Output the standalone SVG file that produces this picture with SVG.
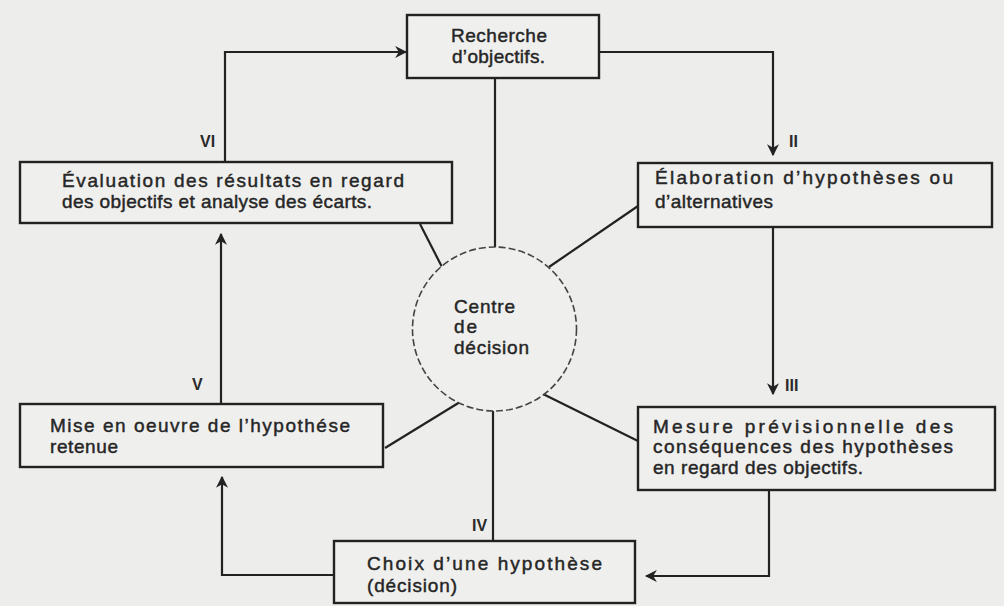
<svg xmlns="http://www.w3.org/2000/svg" width="1004" height="606" viewBox="0 0 1004 606">
<defs>
<style>
.bg{fill:#ededeb}
.box{fill:#efefed;stroke:#222;stroke-width:2.4}
.t{font-family:"Liberation Sans",Arial,Helvetica,sans-serif;font-size:19px;fill:#262626;stroke:#262626;stroke-width:0.45}
.lab{font-family:"Liberation Sans",Arial,Helvetica,sans-serif;font-size:16px;font-weight:bold;fill:#2a2a2a}
.ln{fill:none;stroke:#222;stroke-width:2.2}
.circ{fill:#efefed;stroke:#444;stroke-width:1.6;stroke-dasharray:7 3}
</style>
<marker id="arr" viewBox="0 0 10 10" refX="9" refY="5" markerWidth="5.5" markerHeight="5.5" orient="auto" markerUnits="strokeWidth">
<path d="M0,0 L10,5 L0,10 L3,5 z" fill="#222"/>
</marker>
</defs>
<rect class="bg" x="0" y="0" width="1004" height="606"/>

<g id="connectors">
<line class="ln" x1="495" y1="78" x2="495" y2="249"/>
<line class="ln" x1="420" y1="224" x2="442" y2="267"/>
<line class="ln" x1="549" y1="267" x2="638" y2="206"/>
<line class="ln" x1="543" y1="394" x2="638" y2="441"/>
<line class="ln" x1="460" y1="402" x2="385" y2="448"/>
<line class="ln" x1="493" y1="410" x2="493" y2="541"/>
<polyline class="ln" points="599,52 773,52 773,155" marker-end="url(#arr)"/>
<polyline class="ln" points="773,227 773,394" marker-end="url(#arr)"/>
<polyline class="ln" points="769,490 769,576 646,576" marker-end="url(#arr)"/>
<polyline class="ln" points="335,575 222,575 222,477" marker-end="url(#arr)"/>
<polyline class="ln" points="221,404 221,234" marker-end="url(#arr)"/>
<polyline class="ln" points="225,162 225,52 406,52" marker-end="url(#arr)"/>
</g>

<g id="labels">
<text class="lab" x="200" y="147">VI</text>
<text class="lab" x="789" y="147">II</text>
<text class="lab" x="785" y="391">III</text>
<text class="lab" x="472" y="531">IV</text>
<text class="lab" x="192" y="390">V</text>
</g>

<g id="node-recherche">
<rect class="box" x="407" y="15" width="192" height="63"/>
<text class="t" x="451" y="42" textLength="96" lengthAdjust="spacing">Recherche</text>
<text class="t" x="452" y="63" textLength="93" lengthAdjust="spacing">d’objectifs.</text>
</g>

<g id="node-evaluation">
<rect class="box" x="20" y="162" width="432" height="61"/>
<text class="t" x="62" y="187" textLength="342" lengthAdjust="spacing">Évaluation des résultats en regard</text>
<text class="t" x="62" y="208" textLength="310" lengthAdjust="spacing">des objectifs et analyse des écarts.</text>
</g>

<g id="node-elaboration">
<rect class="box" x="638" y="163" width="354" height="64"/>
<text class="t" x="655" y="184" textLength="298" lengthAdjust="spacing">Élaboration d’hypothèses ou</text>
<text class="t" x="655" y="208" textLength="118" lengthAdjust="spacing">d’alternatives</text>
</g>

<g id="node-centre">
<circle class="circ" cx="494.5" cy="329" r="82"/>
<text class="t" x="454" y="313" textLength="61" lengthAdjust="spacing">Centre</text>
<text class="t" x="454" y="333" textLength="23" lengthAdjust="spacing">de</text>
<text class="t" x="454" y="354" textLength="75" lengthAdjust="spacing">décision</text>
</g>

<g id="node-mise">
<rect class="box" x="20" y="404" width="363" height="63"/>
<text class="t" x="50" y="432" textLength="300" lengthAdjust="spacing">Mise en oeuvre de l’hypothése</text>
<text class="t" x="50" y="453" textLength="68" lengthAdjust="spacing">retenue</text>
</g>

<g id="node-mesure">
<rect class="box" x="638" y="407" width="357" height="83"/>
<text class="t" x="653" y="433" textLength="300" lengthAdjust="spacing">Mesure prévisionnelle des</text>
<text class="t" x="653" y="453" textLength="300" lengthAdjust="spacing">conséquences des hypothèses</text>
<text class="t" x="653" y="474" textLength="210" lengthAdjust="spacing">en regard des objectifs.</text>
</g>

<g id="node-choix">
<rect class="box" x="334" y="541" width="301" height="62"/>
<text class="t" x="367" y="570" textLength="235" lengthAdjust="spacing">Choix d’une hypothèse</text>
<text class="t" x="367" y="592" textLength="90" lengthAdjust="spacing">(décision)</text>
</g>
</svg>
